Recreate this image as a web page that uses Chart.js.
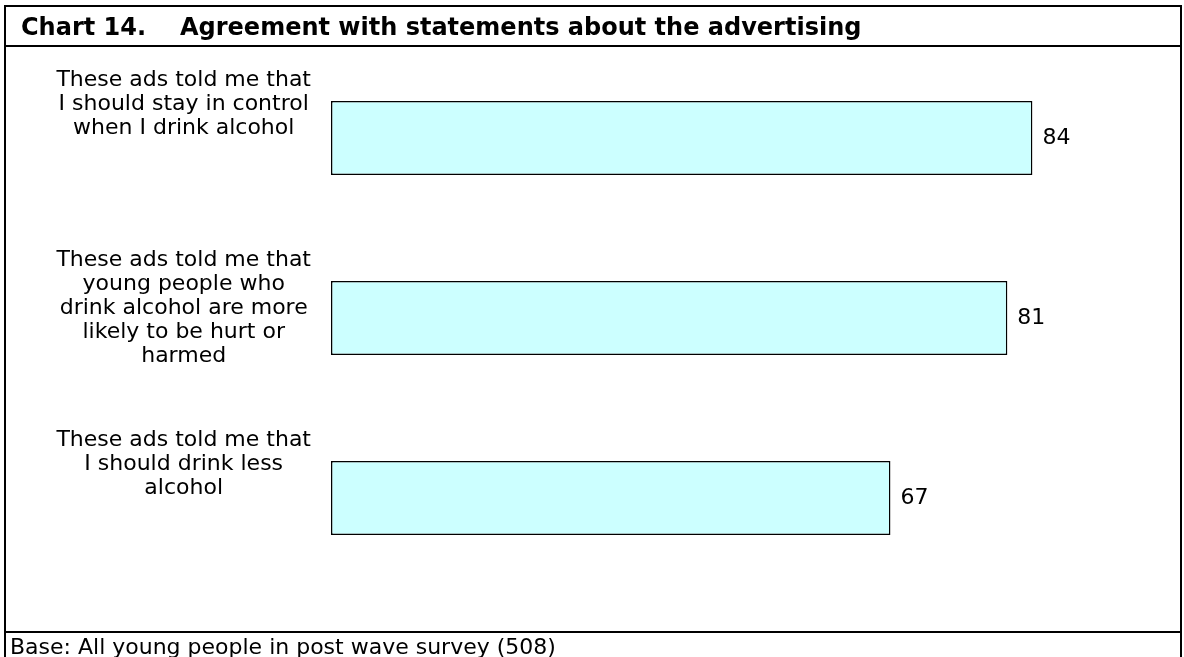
<!DOCTYPE html>
<html>
<head>
<meta charset="utf-8">
<script src="https://cdn.jsdelivr.net/npm/chart.js@4.4.1/dist/chart.umd.min.js"></script>
<style>
  html, body { margin: 0; padding: 0; background: #fff; }
  #wrap { width: 1184px; height: 657px; }
</style>
</head>
<body>
<div id="wrap"><canvas id="chart"></canvas></div>
<script>
const statements = [
  ['These ads told me that', 'I should stay in control', 'when I drink alcohol'],
  ['These ads told me that', 'young people who', 'drink alcohol are more', 'likely to be hurt or', 'harmed'],
  ['These ads told me that', 'I should drink less', 'alcohol']
]
const agreePct = [84, 81, 67]
const chartNo = 'Chart 14.'
const chartTitle = 'Agreement with statements about the advertising'
const baseNote = 'Base: All young people in post wave survey (508)'

const FONT = 'DejaVu Sans'

// labels sit at the top of their band, so pad them to the same line count
const maxLines = Math.max(...statements.map(s => s.length))
const tickLabels = statements.map(s => s.concat(Array(maxLines - s.length).fill('')))

const framePlugin = {
  id: 'frame',
  afterDraw(chart) {
    const c = chart.ctx
    c.save()
    c.strokeStyle = '#000'
    c.lineWidth = 2
    c.strokeRect(5, 6, 1176, 700)
    c.beginPath()
    c.moveTo(5, 46)
    c.lineTo(1181, 46)
    c.moveTo(5, 632)
    c.lineTo(1181, 632)
    c.stroke()

    c.fillStyle = '#000'
    c.textBaseline = 'alphabetic'
    c.font = 'bold 24px "' + FONT + '"'
    c.fillText(chartNo, 21, 35)
    c.fillText(chartTitle, 180, 35)

    c.font = '22px "' + FONT + '"'
    c.fillText(baseNote, 10, 654)
    c.restore()
  }
}

const valueLabels = {
  id: 'valueLabels',
  afterDatasetsDraw(chart) {
    const c = chart.ctx
    const meta = chart.getDatasetMeta(0)
    c.save()
    c.fillStyle = '#000'
    c.font = '22px "' + FONT + '"'
    c.textAlign = 'left'
    c.textBaseline = 'middle'
    meta.data.forEach((bar, i) => {
      c.fillText(String(agreePct[i]), bar.x + 10, bar.y)
    })
    c.restore()
  }
}

new Chart(document.getElementById('chart'), {
  type: 'bar',
  data: {
    labels: tickLabels,
    datasets: [{
      data: agreePct,
      backgroundColor: '#CCFFFF',
      borderColor: '#000',
      borderWidth: 1.5,
      borderSkipped: false,
      categoryPercentage: 1,
      barPercentage: 0.41
    }]
  },
  options: {
    indexAxis: 'y',
    responsive: true,
    maintainAspectRatio: false,
    animation: false,
    layout: {
      padding: { top: 48, bottom: 69, left: 0, right: 18 }
    },
    plugins: {
      legend: { display: false },
      tooltip: { enabled: false }
    },
    scales: {
      x: {
        display: false,
        min: 0,
        max: 100
      },
      y: {
        border: { display: false },
        grid: { display: false, drawTicks: false },
        afterFit(scale) {
          scale.width = 331
          // tall labels must not shrink the plot area
          scale.paddingTop = 0
          scale.paddingBottom = 0
        },
        ticks: {
          crossAlign: 'center',
          padding: 20,
          labelOffset: -10,
          color: '#000',
          font: { family: FONT, size: 22, lineHeight: 24 / 22 }
        }
      }
    }
  },
  plugins: [framePlugin, valueLabels]
})
</script>
</body>
</html>
